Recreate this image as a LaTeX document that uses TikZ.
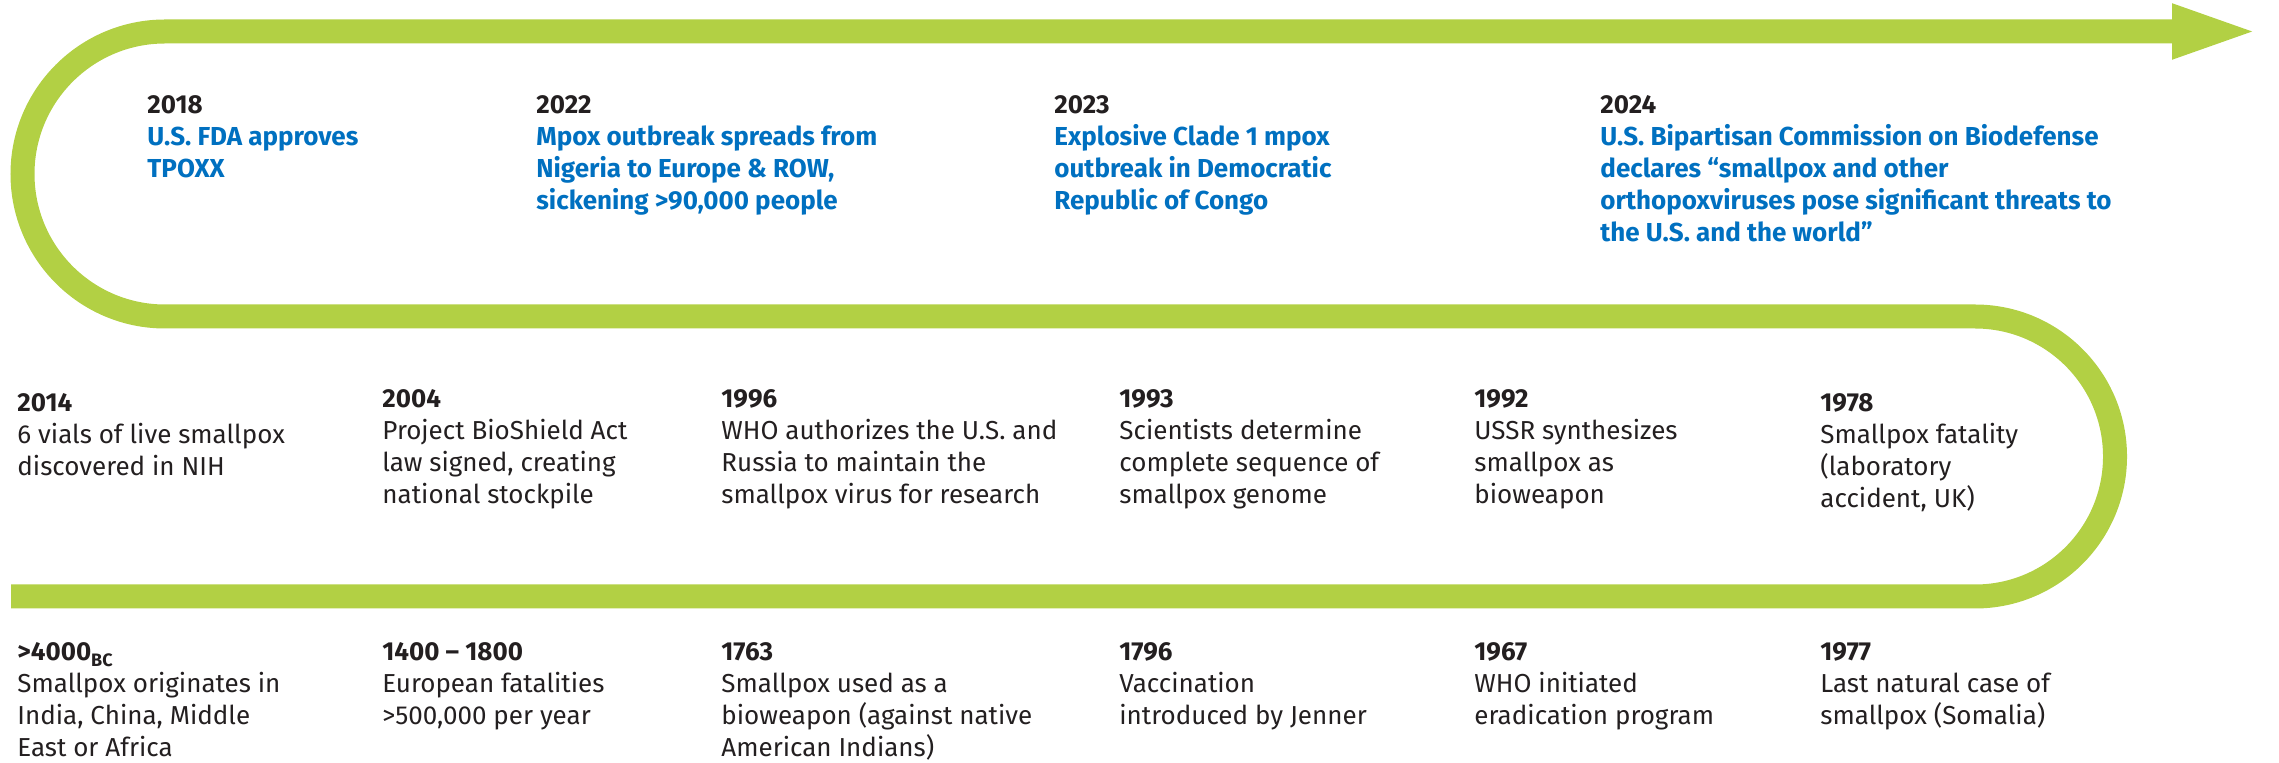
\documentclass[tikz,border=0pt]{standalone}
\usepackage{fontspec}
\setmainfont{Fira Sans}
\usetikzlibrary{arrows.meta}
\definecolor{lime}{RGB}{178,208,68}
\definecolor{newsblue}{RGB}{0,112,192}
\definecolor{ink}{RGB}{35,31,32}
\newcommand{\yr}[1]{\textbf{\textcolor{ink}{#1}}}

\begin{document}
\begin{tikzpicture}[x=0.5pt,y=-0.5pt]
        \tikzstyle{band}=[draw=lime, line width=12pt]
        \tikzstyle{event}=[anchor=north west, inner sep=0pt, align=left, text=ink, font=\fontsize{13}{16}\selectfont]
        \tikzstyle{recent}=[event, text=newsblue, font=\fontsize{13}{16}\selectfont\bfseries]

        \useasboundingbox (0,0) rectangle (2279,763);

        \coordinate (start) at (11,596.5);
        \coordinate (tip) at (2262,31.5);
        \draw[band, -{Triangle[length=45pt,width=24pt]}] (start) -- (1975,596.5) arc(-90:90:70pt)
            -- (165,316.5) arc(270:90:71.25pt) -- (tip);

        \node[recent] (y2018) at (147,95) {\yr{2018}\\ U.S. FDA approves\\ TPOXX};
        \node[recent] (y2022) at (536,95) {\yr{2022}\\ Mpox outbreak spreads from\\ Nigeria to Europe \& ROW,\\ sickening >90,000 people};
        \node[recent] (y2023) at (1054,95) {\yr{2023}\\ Explosive Clade 1 mpox\\ outbreak in Democratic\\ Republic of Congo};
        \node[recent] (y2024) at (1600,95) {\yr{2024}\\ U.S. Bipartisan Commission on Biodefense\\ declares “smallpox and other\\ orthopoxviruses pose significant threats to\\ the U.S. and the world”};

        \node[event] (y2014) at (17,393) {\yr{2014}\\ 6 vials of live smallpox\\ discovered in NIH};
        \node[event] (y2004) at (382,389) {\yr{2004}\\ Project BioShield Act\\ law signed, creating\\ national stockpile};
        \node[event] (y1996) at (721,389) {\yr{1996}\\ WHO authorizes the U.S. and\\ Russia to maintain the\\ smallpox virus for research};
        \node[event] (y1993) at (1119,389) {\yr{1993}\\ Scientists determine\\ complete sequence of\\ smallpox genome};
        \node[event] (y1992) at (1474,389) {\yr{1992}\\ USSR synthesizes\\ smallpox as\\ bioweapon};
        \node[event] (y1978) at (1820,393) {\yr{1978}\\ Smallpox fatality\\ (laboratory\\ accident, UK)};

        \node[event] (y4000) at (17,642) {\yr{>4000\raisebox{-3pt}{\fontsize{9}{9}\selectfont BC}}\\ Smallpox originates in\\ India, China, Middle\\ East or Africa};
        \node[event] (y1400) at (382,642) {\yr{1400 – 1800}\\ European fatalities\\ >500,000 per year};
        \node[event] (y1763) at (721,642) {\yr{1763}\\ Smallpox used as a\\ bioweapon (against native\\ American Indians)};
        \node[event] (y1796) at (1119,642) {\yr{1796}\\ Vaccination\\ introduced by Jenner};
        \node[event] (y1967) at (1474,642) {\yr{1967}\\ WHO initiated\\ eradication program};
        \node[event] (y1977) at (1820,642) {\yr{1977}\\ Last natural case of\\ smallpox (Somalia)};
    \end{tikzpicture}
\end{document}
